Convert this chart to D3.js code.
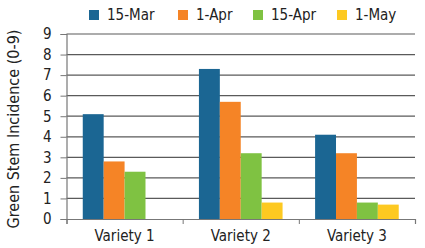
<!DOCTYPE html>
<html>
<head>
<meta charset="utf-8">
<script src="https://cdn.jsdelivr.net/npm/d3@7"></script>
<style>
  body { margin: 0; background: #fff; }
  text { font-family: "DejaVu Sans Condensed", "Liberation Sans", sans-serif; fill: #222; }
</style>
</head>
<body>
<svg width="425" height="248"></svg>
<script>
const varieties = ["Variety 1", "Variety 2", "Variety 3"]
const dates = ["15-Mar", "1-Apr", "15-Apr", "1-May"]
const mar15 = [5.1, 7.3, 4.1]
const apr1 = [2.8, 5.7, 3.2]
const apr15 = [2.3, 3.2, 0.8]
const may1 = [0, 0.8, 0.7]
const yTicks = [0, 1, 2, 3, 4, 5, 6, 7, 8, 9]

const colors = ["#1b6693", "#f58426", "#7fc242", "#fdc921"]
const series = [mar15, apr1, apr15, may1]

const svg = d3.select('svg')
const margin = { left: 66.5, right: 10, top: 34, bottom: 29 }
const width = 425 - margin.left - margin.right
const height = 248 - margin.top - margin.bottom

const g = svg.append('g').attr('transform', `translate(${margin.left},${margin.top})`)

const x0 = d3.scaleBand().domain(varieties).range([0, width]).paddingInner(0.28).paddingOuter(0.14)
const x1 = d3.scaleBand().domain(dates).range([0, x0.bandwidth()])
const y = d3.scaleLinear().domain([0, 9]).range([height, 0])

// gridlines
g.selectAll('line.grid')
    .data(yTicks.filter(d => d > 0))
    .enter()
    .append('line')
    .attr('x1', 0).attr('x2', width)
    .attr('y1', d => y(d)).attr('y2', d => y(d))
    .attr('stroke', '#5a5a5a')
    .attr('stroke-width', 1.2)

// bars
varieties.forEach((v, i) => {
    g.selectAll(null)
        .data(dates)
        .enter()
        .append('rect')
        .attr('x', d => x0(v) + x1(d))
        .attr('width', x1.bandwidth())
        .attr('y', (d, j) => y(series[j][i]))
        .attr('height', (d, j) => height - y(series[j][i]))
        .attr('fill', (d, j) => colors[j])
})

// y axis
const yAxis = g.append('g')
    .call(d3.axisLeft(y).tickValues(yTicks).tickSize(6).tickPadding(9))
yAxis.select('.domain').attr('stroke', '#777').attr('stroke-width', 1.2)
yAxis.selectAll('.tick line').attr('stroke', '#777')
yAxis.selectAll('.tick text').style('font-size', '15px').attr('fill', '#222')

// x axis
const xEdges = d3.scaleLinear().domain([0, 3]).range([0, width])
const xAxis = g.append('g')
    .attr('transform', `translate(0,${height})`)
    .call(d3.axisBottom(xEdges).tickValues([0, 1, 2, 3]).tickSize(5).tickFormat(''))
xAxis.select('.domain').attr('stroke', '#777').attr('stroke-width', 1.2)
xAxis.selectAll('.tick line').attr('stroke', '#777')

g.selectAll('text.cat')
    .data(varieties)
    .enter()
    .append('text')
    .attr('x', d => x0(d) + x0.bandwidth() / 2)
    .attr('y', height + 22)
    .attr('text-anchor', 'middle')
    .style('font-size', '15px')
    .text(d => d)

// y label
svg.append('text')
    .attr('transform', `translate(19,${margin.top + 95}) rotate(-90)`)
    .attr('text-anchor', 'middle')
    .style('font-size', '16px')
    .text('Green Stem Incidence (0-9)')

// legend
const legendX = [89, 178, 253, 337]
const legend = svg.selectAll('g.legend')
    .data(dates)
    .enter()
    .append('g')
    .attr('transform', (d, i) => `translate(${legendX[i]},10)`)
legend.append('rect')
    .attr('width', 10).attr('height', 10)
    .attr('fill', (d, i) => colors[i])
legend.append('text')
    .attr('x', 18).attr('y', 9.5)
    .style('font-size', '15px')
    .text(d => d)
</script>
</body>
</html>
